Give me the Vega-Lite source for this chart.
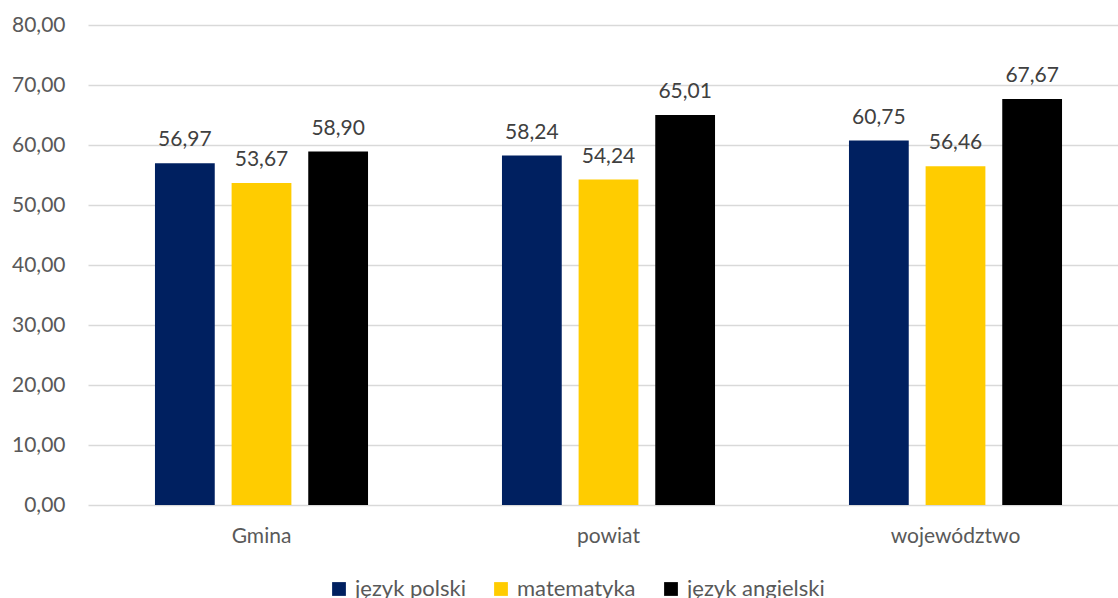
{
  "$schema": "https://vega.github.io/schema/vega-lite/v6.json",
  "autosize": "none",
  "width": 1041,
  "height": 480,
  "padding": {"left": 88, "top": 25, "right": 0, "bottom": 93},
  "background": "white",
  "config": {
    "locale": {"number": {"decimal": ",", "thousands": " ", "grouping": [3], "currency": ["", " zł"]}},
    "font": "Lato",
    "view": {"stroke": null}
  },
  "data": {
    "values": [
      {"jednostka": "Gmina", "przedmiot": "język polski", "wynik": 56.97},
      {"jednostka": "Gmina", "przedmiot": "matematyka", "wynik": 53.67},
      {"jednostka": "Gmina", "przedmiot": "język angielski", "wynik": 58.90},
      {"jednostka": "powiat", "przedmiot": "język polski", "wynik": 58.24},
      {"jednostka": "powiat", "przedmiot": "matematyka", "wynik": 54.24},
      {"jednostka": "powiat", "przedmiot": "język angielski", "wynik": 65.01},
      {"jednostka": "województwo", "przedmiot": "język polski", "wynik": 60.75},
      {"jednostka": "województwo", "przedmiot": "matematyka", "wynik": 56.46},
      {"jednostka": "województwo", "przedmiot": "język angielski", "wynik": 67.67}
    ]
  },
  "encoding": {
    "x": {
      "field": "jednostka", "type": "nominal", "sort": ["Gmina", "powiat", "województwo"],
      "scale": {"paddingInner": 0.386, "paddingOuter": 0.193},
      "axis": {"title": null, "labelAngle": 0, "domain": false, "ticks": false, "labelFontSize": 21, "labelColor": "#595959", "labelPadding": 20, "labelFont": "Lato"}
    },
    "xOffset": {
      "field": "przedmiot", "type": "nominal", "sort": ["język polski", "matematyka", "język angielski"],
      "scale": {"paddingInner": 0.22, "paddingOuter": 0}
    },
    "y": {
      "field": "wynik", "type": "quantitative",
      "scale": {"domain": [0, 80], "nice": false},
      "axis": {"title": null, "format": ".2f", "values": [0, 10, 20, 30, 40, 50, 60, 70, 80], "domain": false, "ticks": false, "gridColor": "#d9d9d9", "gridWidth": 1.5, "labelFontSize": 21, "labelColor": "#595959", "labelPadding": 23, "labelFont": "Lato"}
    }
  },
  "layer": [
    {
      "mark": {"type": "bar"},
      "encoding": {
        "color": {
          "field": "przedmiot", "type": "nominal",
          "sort": ["język polski", "matematyka", "język angielski"],
          "scale": {"domain": ["język polski", "matematyka", "język angielski"], "range": ["#002060", "#FFCC00", "#000000"]},
          "legend": {
            "title": null, "orient": "none", "direction": "horizontal",
            "legendX": 240, "legendY": 553,
            "symbolType": "square", "symbolSize": 190, "symbolStrokeWidth": 0,
            "labelFontSize": 22, "labelColor": "#595959", "labelFont": "Lato",
            "columnPadding": 24, "symbolOffset": 0, "labelOffset": 5
          }
        }
      }
    },
    {
      "mark": {"type": "text", "baseline": "alphabetic", "dy": -17, "fontSize": 21, "color": "#404040", "font": "Lato"},
      "encoding": {
        "text": {"field": "wynik", "type": "quantitative", "format": ".2f"}
      }
    }
  ]
}
